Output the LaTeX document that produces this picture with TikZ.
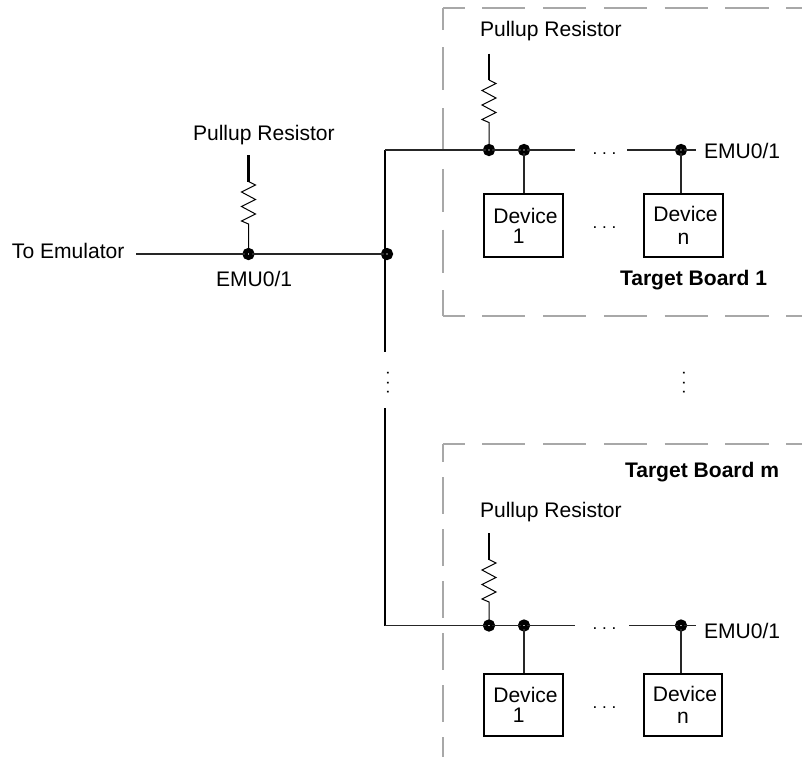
\documentclass[tikz,border=0pt]{standalone}
\usepackage{fontspec}
\setmainfont{Liberation Sans}
\frenchspacing
\definecolor{boardgrey}{HTML}{A8A8A8}
\tikzset{
  lbl/.style={inner sep=0pt,outer sep=0pt,anchor=base west,font=\fontsize{15.8pt}{15.8pt}\selectfont},
  lblb/.style={lbl,font=\fontsize{15.8pt}{15.8pt}\selectfont\bfseries},
  dotsh/.style={inner sep=0pt,outer sep=0pt,font=\frenchspacing\fontsize{12.8pt}{12.8pt}\selectfont},
  dotsv/.style={dotsh,rotate=90},
  wire/.style={line width=1pt,draw=black!85},
  stub/.style={line width=1.8pt,draw=black},
  zig/.style={line width=0.75pt,draw=black,line join=miter},
  bus/.style={line width=2.1pt,draw=black},
  boardh/.style={draw=boardgrey,line width=1.8pt,dash pattern=on 32.4pt off 13.2pt,dash phase=16.2pt},
  boardv/.style={draw=boardgrey,line width=1.8pt,dash pattern=on 32.4pt off 13.2pt,dash phase=16.2pt},
  boardw/.style={draw=boardgrey,line width=1.8pt,dash pattern=on 27.6pt off 11.4pt,dash phase=14pt},
  junction/.style={circle,draw=black,fill=white,line width=3.8pt,minimum size=5.2pt,inner sep=0pt,outer sep=0pt},
  devbox/.style={draw=black,line width=1.6pt,minimum width=59pt,minimum height=47pt,inner sep=0pt,align=center,
    font=\fontsize{15.8pt}{15.8pt}\selectfont},
}
\begin{document}
\begin{tikzpicture}[x=0.75pt,y=-0.75pt]
\useasboundingbox (0,0) rectangle (802,757);
% boards
\coordinate (b1tl) at (443,8);
\coordinate (b1tr) at (802,8);
\coordinate (b1bl) at (443,316);
\coordinate (b1br) at (802,316);
\coordinate (bmtl) at (443,444);
\coordinate (bmtr) at (802,444);
\coordinate (bmbl) at (443,757);
\draw[boardh] (b1tl) -- (b1tr);
\draw[boardv] (b1tl) -- (b1bl);
\draw[boardh] (b1bl) -- (b1br);
\draw[boardh] (bmtl) -- (bmtr);
\draw[boardw] (bmtl) -- (bmbl);
% junctions
\coordinate (toem) at (136,254);
\node[junction] (j0) at (248.5,254) {};
\node[junction] (jb) at (387,254) {};
\coordinate (bust) at (385,150);
\coordinate (busa) at (385,352);
\coordinate (busb) at (385,408);
\coordinate (busc) at (385,625.5);
\node[junction] (a0) at (489,150) {};
\node[junction] (a1) at (524,150) {};
\node[junction] (an) at (681,150) {};
\coordinate (abrk) at (575,150);
\coordinate (acon) at (627,150);
\coordinate (aend) at (696,150);
\node[junction] (c0) at (489,625.5) {};
\node[junction] (c1) at (524,625.5) {};
\node[junction] (cn) at (681,625.5) {};
\coordinate (cbrk) at (575,625.5);
\coordinate (ccon) at (629,625.5);
\coordinate (cend) at (696,625.5);
% devices
\node[devbox] (d1) at (523.5,225.5) {\hspace*{3pt}Device\\[-1pt]\hspace*{-7pt}1};
\node[devbox] (dn) at (683.5,225.5) {\hspace*{3pt}Device\\[1pt]\hspace*{0pt}n};
\node[devbox] (e1) at (523.5,705) {\hspace*{3pt}Device\\[-1pt]\hspace*{-7pt}1};
\node[devbox] (en) at (683,705) {\hspace*{3pt}Device\\[1pt]\hspace*{0pt}n};
% buses and wires
\draw[bus] (bust) -- (busa);
\draw[bus] (busb) -- (busc);
\draw[wire] (toem) -- (j0) -- (jb);
\draw[wire] (bust) -- (a0) -- (a1) -- (abrk);
\draw[wire] (acon) -- (an) -- (aend);
\draw[wire] (busc) -- (c0) -- (c1) -- (cbrk);
\draw[wire] (ccon) -- (cn) -- (cend);
\draw[wire] (a1) -- (a1|-d1.north);
\draw[wire] (an) -- (an|-dn.north);
\draw[wire] (c1) -- (c1|-e1.north);
\draw[wire] (cn) -- (cn|-en.north);
% resistors
\foreach \nm/\px/\py in {j0/248.5/155, a0/489/53.5, c0/489/533}{
  \coordinate (top) at (\px,\py);
  \draw[stub] (top) -- ++(0,26.5) coordinate (rs);
  \draw[zig] (rs) -- ++(7,3.5) -- ++(-14,7) -- ++(14,7.5) -- ++(-14,7) -- ++(14,7.5) -- ++(-14,7) -- ++(7,3) coordinate (re) -- (\nm);
}
% labels
\node[lbl] (t1) at (480,36.7) {Pullup Resistor};
\node[lbl] (t2) at (193,140) {Pullup Resistor};
\node[lbl] (t3) at (480,517) {Pullup Resistor};
\node[lbl] (t4) at (12,258) {To Emulator};
\node[lbl] (t5) at (216,286) {EMU0/1};
\node[lbl] (t6) at (704,158) {EMU0/1};
\node[lbl] (t7) at (704,638) {EMU0/1};
\node[lblb] (t8) at (620,285) {Target Board 1};
\node[lblb] (t9) at (625,477) {Target Board m};
% ellipses
\node[dotsh] (e1d) at (604.5,154) {. . .};
\node[dotsh] (e2d) at (604.5,228) {. . .};
\node[dotsh] (e3d) at (604.5,629) {. . .};
\node[dotsh] (e4d) at (604.5,708) {. . .};
\node[dotsv] (e5d) at (388,383) {. . .};
\node[dotsv] (e6d) at (684,383) {. . .};
\end{tikzpicture}
\end{document}
